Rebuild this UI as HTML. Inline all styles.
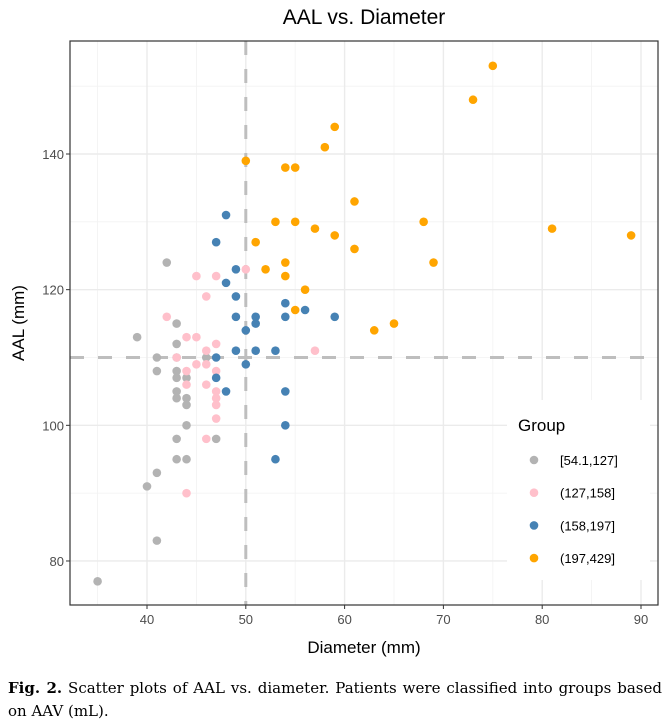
<!DOCTYPE html>
<html><head><meta charset="utf-8"><style>
body{margin:0;background:#fff;width:670px;height:727px;overflow:hidden;font-family:"Liberation Sans",sans-serif}
#cap{position:absolute;left:8px;top:677px;width:654px;font-family:"DejaVu Serif",serif;font-size:15px;line-height:23px;color:#000}
.l1{text-align:justify;text-align-last:justify;white-space:nowrap}
</style></head><body>
<svg id="chart" width="670" height="670" style="position:absolute;left:0;top:0" font-family="Liberation Sans, sans-serif"></svg>
<div id="cap"><div class="l1"><b>Fig. 2.</b> Scatter plots of AAL vs. diameter. Patients were classified into groups based</div><div>on AAV (mL).</div></div>
<script>
const groups=["[54.1,127]","(127,158]","(158,197]","(197,429]"];
const colors=["#b3b3b3","#ffc0cb","#4682b4","#ffa500"];
const grayX=[35,39,40,41,41,41,41,42,43,43,43,43,43,43,43,43,43,44,44,44,44,44,46,47];
const grayY=[77,113,91,110,108,93,83,124,115,112,108,107,105,104,98,95,110,107,104,103,100,95,110,98];
const pinkX=[45,47,50,46,42,44,45,47,46,57,43,45,46,44,47,44,46,47,47,47,47,46,44];
const pinkY=[122,122,123,119,116,113,113,112,111,111,110,109,109,108,108,106,106,105,104,103,101,98,90];
const blueX=[48,47,49,48,49,54,56,49,51,54,59,51,50,49,51,53,47,50,47,48,54,54,53];
const blueY=[131,127,123,121,119,118,117,116,116,116,116,115,114,111,111,111,110,109,107,105,105,100,95];
const orangeX=[75,73,59,58,50,54,55,61,53,55,68,57,81,59,89,51,61,54,69,52,54,56,55,63,65];
const orangeY=[153,148,144,141,139,138,138,133,130,130,130,129,129,128,128,127,126,124,124,123,122,120,117,114,115];
const xTicks=[40,50,60,70,80,90];
const yTicks=[80,100,120,140];
const refX=50, refY=110;
const L=70,R=658,T=41,B=605;
const sx=v=>147+(v-40)*9.88;
const sy=v=>154+(140-v)*6.783;
const svg=document.getElementById('chart');
const NS='http://www.w3.org/2000/svg';
function mk(tag,at,txt){const e=document.createElementNS(NS,tag);for(const k in at)e.setAttribute(k,at[k]);if(txt!==undefined)e.textContent=txt;svg.appendChild(e);return e;}
[35,45,55,65,75,85].forEach(v=>{const e=mk('line',{x1:sx(v),x2:sx(v),y1:T,y2:B,stroke:'#f2f2f2','stroke-width':0.8});});
[90,110,130,150].forEach(v=>{const e=mk('line',{x1:L,x2:R,y1:sy(v),y2:sy(v),stroke:'#f2f2f2','stroke-width':0.8});});
xTicks.forEach(v=>{const e=mk('line',{x1:sx(v),x2:sx(v),y1:T,y2:B,stroke:'#ebebeb','stroke-width':1.4});
 const t=mk('text',{x:sx(v),y:B+19,'text-anchor':'middle','font-size':13,fill:'#4d4d4d'},v);
 mk('line',{x1:sx(v),x2:sx(v),y1:B,y2:B+4,stroke:'#333'});});
yTicks.forEach(v=>{const e=mk('line',{x1:L,x2:R,y1:sy(v),y2:sy(v),stroke:'#ebebeb','stroke-width':1.4});
 const t=mk('text',{x:L-6,y:sy(v)+5,'text-anchor':'end','font-size':13,fill:'#4d4d4d'},v);
 mk('line',{x1:L-4,x2:L,y1:sy(v),y2:sy(v),stroke:'#333'});});
let r1=mk('line',{x1:sx(refX),x2:sx(refX),y1:T,y2:B,stroke:'#bebebe','stroke-width':3,'stroke-dasharray':'14,14'});

let r2=mk('line',{x1:L,x2:R,y1:sy(refY),y2:sy(refY),stroke:'#bebebe','stroke-width':3,'stroke-dasharray':'14,14'});

[[grayX,grayY],[pinkX,pinkY],[blueX,blueY],[orangeX,orangeY]].forEach((s,g)=>{s[0].forEach((x,i)=>{const c=mk('circle',{cx:sx(x),cy:sy(s[1][i]),r:4.3,fill:colors[g]});});});
let bd=mk('rect',{x:L,y:T,width:R-L,height:B-T,fill:'none',stroke:'#333','stroke-width':1.2});

let tt=mk('text',{x:364,y:24,'text-anchor':'middle','font-size':21,fill:'#000'},'AAL vs. Diameter');

let xt=mk('text',{x:364,y:653,'text-anchor':'middle','font-size':17,fill:'#000'},'Diameter (mm)');

let yt=mk('text',{x:0,y:0,'text-anchor':'middle','font-size':17,fill:'#000',transform:'translate(24,323) rotate(-90)'},'AAL (mm)');

let lb=mk('rect',{x:507,y:400,width:143,height:180,fill:'#fff'});

let lt=mk('text',{x:518,y:431,'font-size':17,fill:'#000'},'Group');

groups.forEach((gname,i)=>{const y=460+i*32.7;
 const c=mk('circle',{cx:534,cy:y,r:4.3,fill:colors[i]});
 const t=mk('text',{x:560,y:y+5,'font-size':13,fill:'#000'},gname);});
</script>
</body></html>
